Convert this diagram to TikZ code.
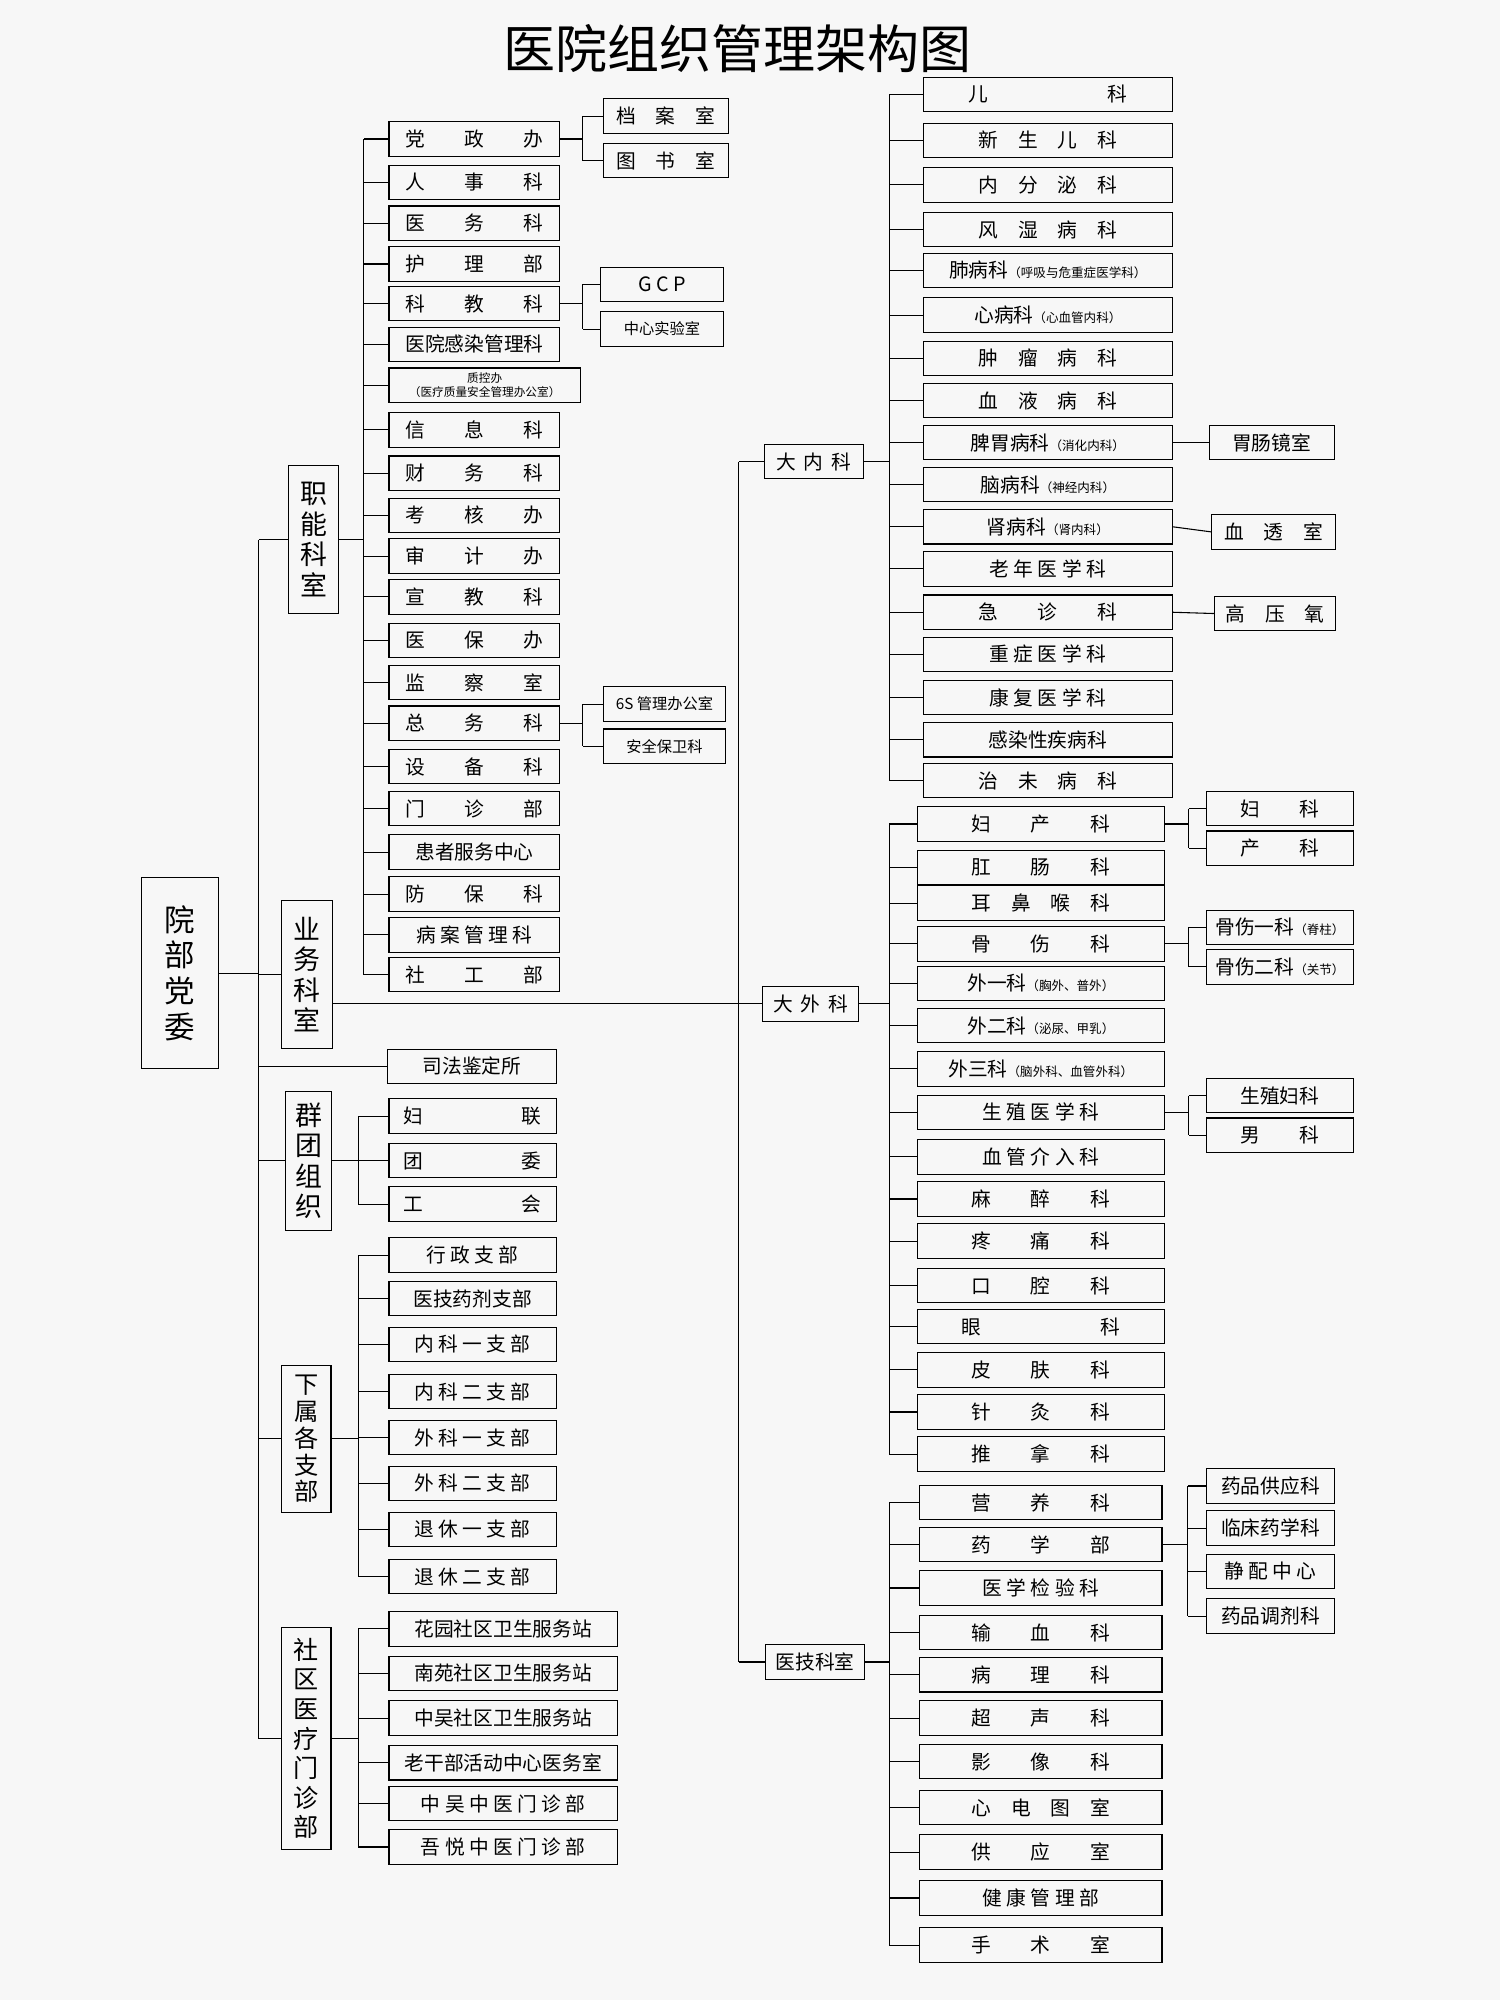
\documentclass[tikz,border=0pt]{standalone}
\usepackage{fontspec}
\setmainfont{Noto Sans CJK SC}
\newcommand\sm[1]{{\fontsize{14}{16}\selectfont #1}}
\tikzset{bx/.style={draw,line width=1.2pt,minimum height=13.5mm,inner ysep=0pt,inner xsep=2pt,font=\fontsize{22}{24}\selectfont},
 grp/.style={draw,line width=1.2pt,inner sep=1pt,align=center,font=\fontsize{30}{34}\selectfont},
 ln/.style={line width=1.2pt}}
\newcommand\bx[5]{\node[bx,minimum width={(#3-#2)*0.5mm}] (#1) at ({(#2+#3)/2},#4) {#5};}
\newcommand\ch[2]{\draw[ln] (#1.west) -- (#1.west -| #2);}
\begin{document}
\begin{tikzpicture}[x=0.5mm,y=-0.5mm]
\useasboundingbox[fill=black!3] (0,0) rectangle (1176,1568);
\node[font=\fontsize{58}{60}\selectfont] (title) at (578,38) {医院组织管理架构图};
% root and groups
\node[grp,minimum width=30mm,minimum height=75mm,font=\fontsize{34}{40}\selectfont] (root) at (141,763) {院\\部\\党\\委};
\node[grp,minimum width=19.5mm,minimum height=58mm] (zn) at (246,423) {职\\能\\科\\室};
\node[grp,minimum width=20mm,minimum height=58mm] (yw) at (241,764) {业\\务\\科\\室};
\bx{sf}{304}{436}{836}{司法鉴定所}
\node[grp,minimum width=18mm,minimum height=54.5mm] (qt) at (242,910) {群\\团\\组\\织};
\node[grp,minimum width=19.5mm,minimum height=57.5mm,font=\fontsize{27}{30}\selectfont] (xs) at (240,1128) {下\\属\\各\\支\\部};
\node[grp,minimum width=19.5mm,minimum height=87mm,font=\fontsize{28}{33}\selectfont] (sq) at (240,1363) {社\\区\\医\\疗\\门\\诊\\部};
\coordinate (T) at (203,0);
\draw[ln] (root.east) -- (root.east -| T);
\draw[ln] (zn.west -| T) -- (sq.west -| T);
\foreach \n in {zn,yw,qt,xs,sq,sf} {\draw[ln] (\n.west) -- (\n.west -| T);}
% zhineng
\coordinate (B1) at (285,0);
\bx{a1}{305}{439}{109}{党　　政　　办}
\bx{a2}{305}{439}{143}{人　　事　　科}
\bx{a3}{305}{439}{175}{医　　务　　科}
\bx{a4}{305}{439}{207}{护　　理　　部}
\bx{a5}{305}{439}{238}{科　　教　　科}
\bx{a6}{305}{439}{270}{医院感染管理科}
\node[bx,minimum width=75mm,align=center,font=\fontsize{13}{15}\selectfont] (a7) at (380,302) {质控办\\（医疗质量安全管理办公室）};
\bx{a8}{305}{439}{337}{信　　息　　科}
\bx{a9}{305}{439}{371}{财　　务　　科}
\bx{a10}{305}{439}{404}{考　　核　　办}
\bx{a11}{305}{439}{436}{审　　计　　办}
\bx{a12}{305}{439}{468}{宣　　教　　科}
\bx{a13}{305}{439}{502}{医　　保　　办}
\bx{a14}{305}{439}{535}{监　　察　　室}
\bx{a15}{305}{439}{567}{总　　务　　科}
\bx{a16}{305}{439}{601}{设　　备　　科}
\bx{a17}{305}{439}{634}{门　　诊　　部}
\bx{a18}{305}{439}{668}{患者服务中心}
\bx{a19}{305}{439}{701}{防　　保　　科}
\bx{a20}{305}{439}{733}{病 案 管 理 科}
\bx{a21}{305}{439}{764}{社　　工　　部}
\draw[ln] (zn.east) -- (zn.east -| B1);
\draw[ln] (a1.west -| B1) -- (a21.west -| B1);
\foreach \i in {1,...,21} {\ch{a\i}{B1}}
\coordinate (B2) at (457,0);
\bx{s1}{473}{571}{91}{档　案　室}
\bx{s2}{473}{571}{126}{图　书　室}
\draw[ln] (a1.east) -- (a1.east -| B2); \draw[ln] (s1.west -| B2) -- (s2.west -| B2); \ch{s1}{B2}\ch{s2}{B2}
\bx{s3}{471}{567}{223}{G C P}
\node[bx,minimum width=48mm,font=\fontsize{17}{19}\selectfont] (s4) at (519,258) {中心实验室};
\draw[ln] (a5.east) -- (a5.east -| B2); \draw[ln] (s3.west -| B2) -- (s4.west -| B2); \ch{s3}{B2}\ch{s4}{B2}
\node[bx,minimum width=48mm,font=\fontsize{17}{19}\selectfont] (s5) at (521,552) {6S 管理办公室};
\node[bx,minimum width=48mm,font=\fontsize{17}{19}\selectfont] (s6) at (521,585) {安全保卫科};
\draw[ln] (a15.east) -- (a15.east -| B2); \draw[ln] (s5.west -| B2) -- (s6.west -| B2); \ch{s5}{B2}\ch{s6}{B2}
% other groups
\coordinate (B3) at (281,0);
\bx{q1}{305}{436}{875}{妇　　　　　联}
\bx{q2}{305}{436}{910}{团　　　　　委}
\bx{q3}{305}{436}{944}{工　　　　　会}
\draw[ln] (qt.east) -- (qt.east -| B3); \draw[ln] (q1.west -| B3) -- (q3.west -| B3);
\foreach \i in {1,2,3} {\ch{q\i}{B3}}
\bx{x1}{305}{436}{984}{行 政 支 部}
\bx{x2}{305}{436}{1018}{医技药剂支部}
\bx{x3}{305}{436}{1054}{内 科 一 支 部}
\bx{x4}{305}{436}{1091}{内 科 二 支 部}
\bx{x5}{305}{436}{1127}{外 科 一 支 部}
\bx{x6}{305}{436}{1163}{外 科 二 支 部}
\bx{x7}{305}{436}{1199}{退 休 一 支 部}
\bx{x8}{305}{436}{1236}{退 休 二 支 部}
\draw[ln] (xs.east) -- (xs.east -| B3); \draw[ln] (x1.west -| B3) -- (x8.west -| B3);
\foreach \i in {1,...,8} {\ch{x\i}{B3}}
\bx{c1}{305}{484}{1277}{花园社区卫生服务站}
\bx{c2}{305}{484}{1312}{南苑社区卫生服务站}
\bx{c3}{305}{484}{1347}{中吴社区卫生服务站}
\bx{c4}{305}{484}{1382}{老干部活动中心医务室}
\bx{c5}{305}{484}{1414}{中 吴 中 医 门 诊 部}
\bx{c6}{305}{484}{1448}{吾 悦 中 医 门 诊 部}
\draw[ln] (sq.east) -- (sq.east -| B3); \draw[ln] (c1.west -| B3) -- (c6.west -| B3);
\foreach \i in {1,...,6} {\ch{c\i}{B3}}
% business
\coordinate (B4) at (579,0);
\bx{dn}{599}{677}{362}{大 \,内 \,科}
\bx{dw}{598}{673}{787}{大 \,外 \,科}
\bx{yj}{600}{678}{1303}{医技科室}
\draw[ln] (yw.east |- dw.west) -- (dw.west);
\draw[ln] (dn.west -| B4) -- (yj.west -| B4);
\ch{dn}{B4}\ch{yj}{B4}
\coordinate (B5) at (697,0);
\bx{n1}{724}{919}{74}{儿　　　　　　科}
\bx{n2}{724}{919}{110}{新　生　儿　科}
\bx{n3}{724}{919}{145}{内　分　泌　科}
\bx{n4}{724}{919}{180}{风　湿　病　科}
\bx{n5}{724}{919}{212}{肺病科\sm{（呼吸与危重症医学科）}}
\bx{n6}{724}{919}{247}{心病科\sm{（心血管内科）}}
\bx{n7}{724}{919}{281}{肿　瘤　病　科}
\bx{n8}{724}{919}{314}{血　液　病　科}
\bx{n9}{724}{919}{347}{脾胃病科\sm{（消化内科）}}
\bx{n10}{724}{919}{380}{脑病科\sm{（神经内科）}}
\bx{n11}{724}{919}{413}{肾病科\sm{（肾内科）}}
\bx{n12}{724}{919}{446}{老 年 医 学 科}
\bx{n13}{724}{919}{480}{急　　诊　　科}
\bx{n14}{724}{919}{513}{重 症 医 学 科}
\bx{n15}{724}{919}{547}{康 复 医 学 科}
\bx{n16}{724}{919}{580}{感染性疾病科}
\bx{n17}{724}{919}{612}{治　未　病　科}
\draw[ln] (dn.east) -- (dn.east -| B5); \draw[ln] (n1.west -| B5) -- (n17.west -| B5);
\foreach \i in {1,...,17} {\ch{n\i}{B5}}
\bx{m1}{948}{1046}{347}{胃肠镜室}
\bx{m2}{950}{1047}{417}{血　透　室}
\bx{m3}{952}{1047}{481}{高　压　氧}
\draw[ln] (n9.east) -- (m1.west); \draw[ln] (n11.east) -- (m2.west); \draw[ln] (n13.east) -- (m3.west);
\bx{w1}{719}{913}{646}{妇　　产　　科}
\bx{w2}{719}{913}{680}{肛　　肠　　科}
\bx{w3}{719}{913}{708}{耳　鼻　喉　科}
\bx{w4}{719}{913}{740}{骨　　伤　　科}
\bx{w5}{719}{913}{771}{外一科\sm{（胸外、普外）}}
\bx{w6}{719}{913}{804}{外二科\sm{（泌尿、甲乳）}}
\bx{w7}{719}{913}{838}{外三科\sm{（脑外科、血管外科）}}
\bx{w8}{719}{913}{872}{生 殖 医 学 科}
\bx{w9}{719}{913}{907}{血 管 介 入 科}
\bx{w10}{719}{913}{940}{麻　　醉　　科}
\bx{w11}{719}{913}{973}{疼　　痛　　科}
\bx{w12}{719}{913}{1008}{口　　腔　　科}
\bx{w13}{719}{913}{1040}{眼　　　　　　科}
\bx{w14}{719}{913}{1074}{皮　　肤　　科}
\bx{w15}{719}{913}{1107}{针　　灸　　科}
\bx{w16}{719}{913}{1140}{推　　拿　　科}
\draw[ln] (dw.east) -- (dw.east -| B5); \draw[ln] (w1.west -| B5) -- (w16.west -| B5);
\foreach \i in {1,...,16} {\ch{w\i}{B5}}
\coordinate (B6) at (932,0);
\bx{v1}{946}{1061}{634}{妇　　科}
\bx{v2}{946}{1061}{665}{产　　科}
\bx{v3}{946}{1061}{727}{骨伤一科\sm{（脊柱）}}
\bx{v4}{946}{1061}{758}{骨伤二科\sm{（关节）}}
\bx{v5}{946}{1061}{859}{生殖妇科}
\bx{v6}{946}{1061}{890}{男　　科}
\draw[ln] (w1.east) -- (w1.east -| B6); \draw[ln] (v1.west -| B6) -- (v2.west -| B6); \ch{v1}{B6}\ch{v2}{B6}
\draw[ln] (w4.east) -- (w4.east -| B6); \draw[ln] (v3.west -| B6) -- (v4.west -| B6); \ch{v3}{B6}\ch{v4}{B6}
\draw[ln] (w8.east) -- (w8.east -| B6); \draw[ln] (v5.west -| B6) -- (v6.west -| B6); \ch{v5}{B6}\ch{v6}{B6}
\bx{j1}{721}{911}{1178}{营　　养　　科}
\bx{j2}{721}{911}{1211}{药　　学　　部}
\bx{j3}{721}{911}{1245}{医 学 检 验 科}
\bx{j4}{721}{911}{1280}{输　　血　　科}
\bx{j5}{721}{911}{1313}{病　　理　　科}
\bx{j6}{721}{911}{1347}{超　　声　　科}
\bx{j7}{721}{911}{1381}{影　　像　　科}
\bx{j8}{721}{911}{1417}{心　电　图　室}
\bx{j9}{721}{911}{1452}{供　　应　　室}
\bx{j10}{721}{911}{1488}{健 康 管 理 部}
\bx{j11}{721}{911}{1525}{手　　术　　室}
\draw[ln] (yj.east) -- (yj.east -| B5); \draw[ln] (j1.west -| B5) -- (j11.west -| B5);
\foreach \i in {1,...,11} {\ch{j\i}{B5}}
\coordinate (B7) at (931,0);
\bx{p1}{946}{1046}{1165}{药品供应科}
\bx{p2}{946}{1046}{1198}{临床药学科}
\bx{p3}{946}{1046}{1232}{静 配 中 心}
\bx{p4}{946}{1046}{1267}{药品调剂科}
\draw[ln] (j2.east) -- (j2.east -| B7); \draw[ln] (p1.west -| B7) -- (p4.west -| B7);
\foreach \i in {1,...,4} {\ch{p\i}{B7}}
\end{tikzpicture}
\end{document}
